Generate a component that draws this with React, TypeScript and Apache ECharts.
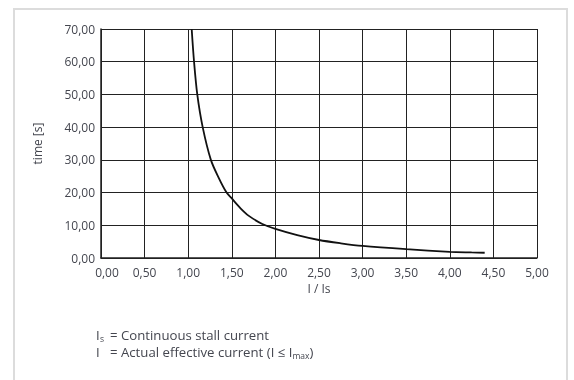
import React, { useEffect, useRef } from "react";
import * as echarts from "echarts";

const currentRatio = [1.04, 1.067, 1.104, 1.166, 1.26, 1.35, 1.44, 1.5, 1.6, 1.7, 1.85, 2.0, 2.25, 2.5, 2.75, 3.0, 3.5, 4.0, 4.25, 4.4];
const timeSec = [70, 60, 50, 40, 30, 24.5, 20, 18.2, 15.2, 12.8, 10.4, 8.9, 7.0, 5.5, 4.5, 3.7, 2.7, 1.9, 1.7, 1.6];

const xTicks = { min: 0, max: 5, interval: 0.5 };
const yTicks = { min: 0, max: 70, interval: 10 };

const xName = "I / Is";
const yName = "time [s]";
const note1 = "= Continuous stall current";
const note2a = "= Actual effective current (I ≤ I";
const note2b = "max";
const note2c = ")";

const FONT = "Open Sans";
const TEXT_COLOR = "#44464f";

export default function App() {
  const ref = useRef<HTMLDivElement>(null);
  useEffect(() => {
    if (!ref.current) return;
    const chart = echarts.init(ref.current, null, { renderer: "svg" });
    const fmt = (v: number) => v.toFixed(2).replace(".", ",");
    const noteSize = 13.2;
    const subSize = 8.5;
    const lh = 17;
    const base = { color: TEXT_COLOR, fontFamily: FONT, fontSize: 12 };
    chart.setOption({
      animation: false,
      grid: { left: 101, right: 37, top: 29, bottom: 122 },
      xAxis: {
        type: "value",
        min: xTicks.min,
        max: xTicks.max,
        interval: xTicks.interval,
        name: xName,
        nameLocation: "middle",
        nameGap: 23,
        nameTextStyle: base,
        axisLine: { show: true, lineStyle: { color: "#222", width: 1.5 } },
        axisTick: { show: false },
        axisLabel: {
          ...base,
          margin: 8,
          formatter: (v: number) => (v === xTicks.min ? `{first|${fmt(v)}}` : fmt(v)),
          rich: { first: { ...base, padding: [0, 0, 0, 12] } },
        },
        splitLine: { show: true, lineStyle: { color: "#222", width: 1 } },
      },
      yAxis: {
        type: "value",
        min: yTicks.min,
        max: yTicks.max,
        interval: yTicks.interval,
        name: yName,
        nameLocation: "middle",
        nameGap: 58,
        nameRotate: 90,
        nameTextStyle: base,
        axisLine: { show: true, lineStyle: { color: "#222", width: 1.5 } },
        axisTick: { show: false },
        axisLabel: { ...base, formatter: fmt, margin: 6 },
        splitLine: { show: true, lineStyle: { color: "#222", width: 1 } },
      },
      series: [
        {
          type: "line",
          data: currentRatio.map((x, i) => [x, timeSec[i]]),
          smooth: 0.3,
          symbol: "none",
          lineStyle: { color: "#111", width: 1.8 },
        },
      ],
      graphic: [
        {
          type: "rect",
          shape: { x: 14, y: 9, width: 553, height: 400 },
          style: { fill: "none", stroke: "#dcdcdc", lineWidth: 2 },
          silent: true,
        },
        {
          type: "text",
          x: 96,
          y: 326,
          silent: true,
          style: {
            text: `{i|I}{s|s}{m|${note1}}\n{i|I}{s| }{m|${note2a}}{sub|${note2b}}{m|${note2c}}`,
            fill: TEXT_COLOR,
            font: `${noteSize}px "${FONT}"`,
            rich: {
              i: { fontFamily: FONT, fontSize: noteSize, lineHeight: lh, width: 4, fill: TEXT_COLOR },
              s: { fontFamily: FONT, fontSize: subSize, lineHeight: 9, width: 10, verticalAlign: "bottom", fill: TEXT_COLOR },
              m: { fontFamily: FONT, fontSize: noteSize, lineHeight: lh, fill: TEXT_COLOR },
              sub: { fontFamily: FONT, fontSize: subSize, lineHeight: 9, verticalAlign: "bottom", fill: TEXT_COLOR },
            },
          },
        },
      ],
    });
    return () => chart.dispose();
  }, []);
  return <div ref={ref} style={{ position: "fixed", left: 0, top: 0, width: 574, height: 380 }} />;
}
